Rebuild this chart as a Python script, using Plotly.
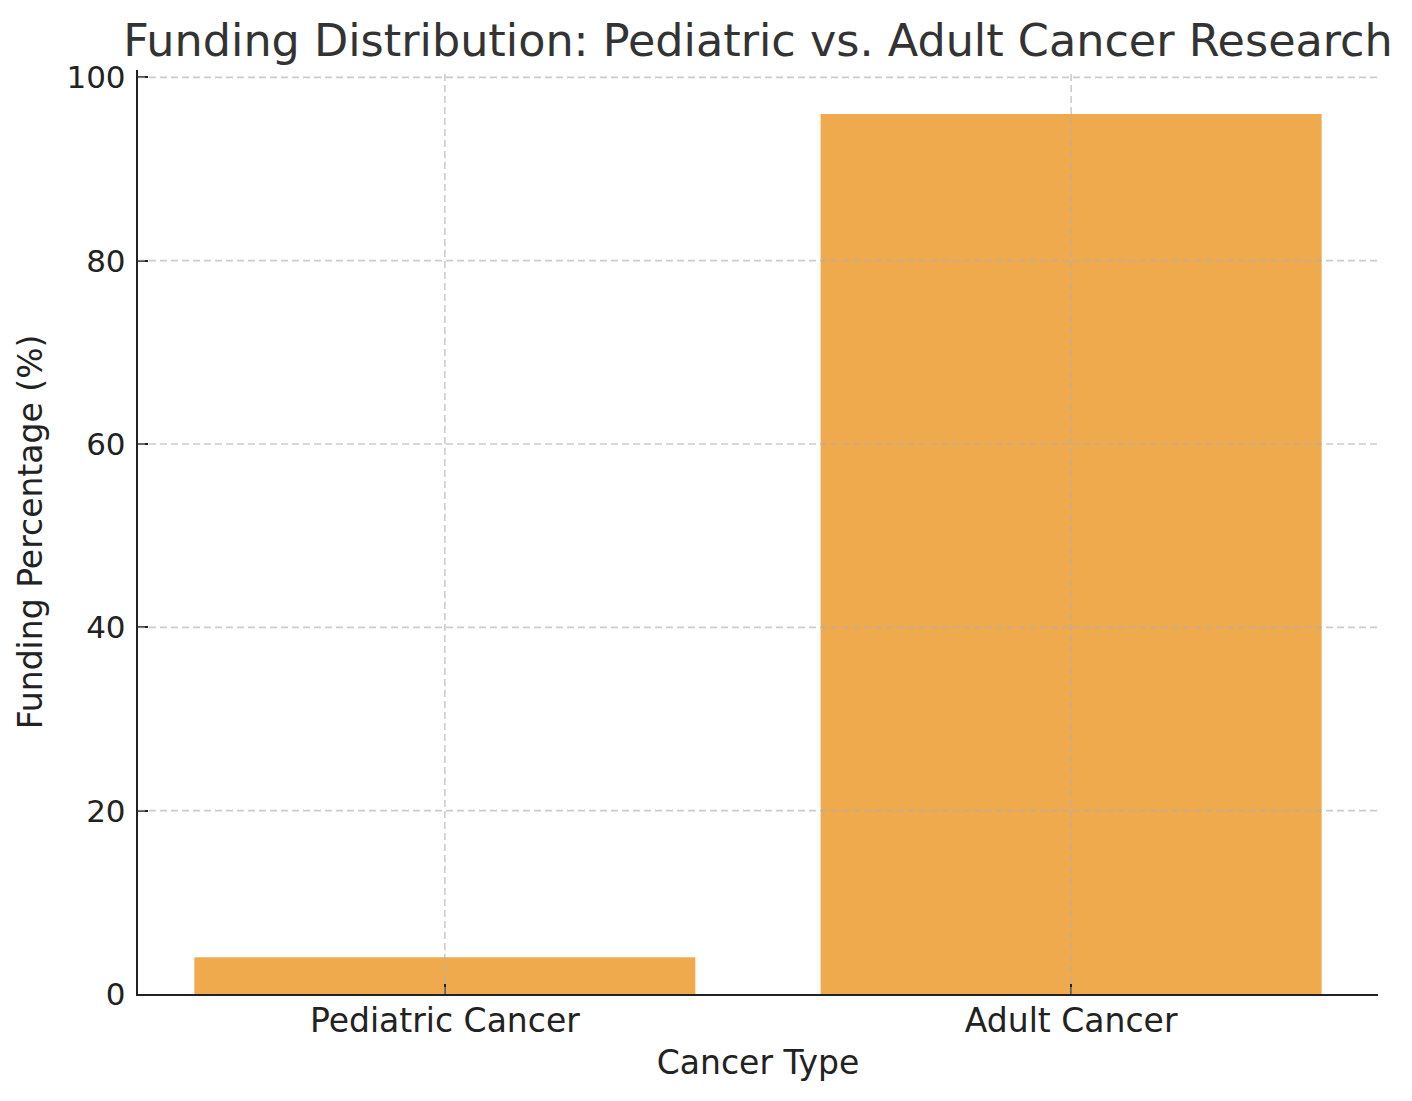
import plotly.graph_objects as go

categories = ["Pediatric Cancer", "Adult Cancer"]
funding_pct = [4, 96]
y_ticks = [0, 20, 40, 60, 80, 100]

bar_color = "#EFAA4E"
grid_color = "rgba(176,176,176,0.65)"
ink = "#222222"
font_family = "DejaVu Sans"

fig = go.Figure()
fig.add_trace(go.Bar(
    x=categories,
    y=funding_pct,
    marker=dict(color=bar_color, line=dict(width=0)),
    width=0.8,
    hoverinfo="x+y",
))

shapes = []
for v in y_ticks:
    if v == 0:
        continue  # hidden under the bottom spine
    shapes.append(dict(type="line", xref="x domain", x0=0, x1=1, yref="y", y0=v, y1=v,
                       line=dict(color=grid_color, width=1.6, dash="7px,4px"), layer="above"))
for c in categories:
    shapes.append(dict(type="line", xref="x", x0=c, x1=c, yref="y domain", y0=0, y1=1,
                       line=dict(color=grid_color, width=1.6, dash="7px,4px"), layer="above"))

# page body has an 8px margin, so the figure is shifted by 8px; compensate
fig.update_layout(
    width=1404, height=1093,
    margin=dict(l=130, r=34, t=62, b=107),
    paper_bgcolor="white", plot_bgcolor="white",
    font=dict(family=font_family, color=ink),
    showlegend=False,
    shapes=shapes,
    title=dict(
        text="Funding Distribution: Pediatric vs. Adult Cancer Research",
        font=dict(size=44.5, color="#333333", family=font_family),
        x=0.5, xanchor="center",
        xref="paper",
        y=1 - 32 / 1093, yref="container", yanchor="middle",
    ),
    xaxis=dict(
        range=[-0.49, 1.49],
        showgrid=False,
        showline=True, linecolor=ink, linewidth=2.4,
        ticks="inside", ticklen=10, tickwidth=2.4, tickcolor=ink,
        tickfont=dict(size=33, color=ink),
        ticklabelstandoff=-4,
        title=dict(text="Cancer Type", font=dict(size=33, color=ink), standoff=12),
        layer="above traces",
        zeroline=False,
    ),
    yaxis=dict(
        range=[0, 100.8],
        tickvals=y_ticks,
        showgrid=False,
        showline=True, linecolor=ink, linewidth=2.4,
        ticks="inside", ticklen=10, tickwidth=2.4, tickcolor=ink,
        tickfont=dict(size=31, color=ink),
        ticklabelstandoff=4,
        title=dict(text="Funding Percentage (%)", font=dict(size=33, color=ink), standoff=14),
        layer="above traces",
        zeroline=False,
    ),
)

fig.write_html("out.html")
